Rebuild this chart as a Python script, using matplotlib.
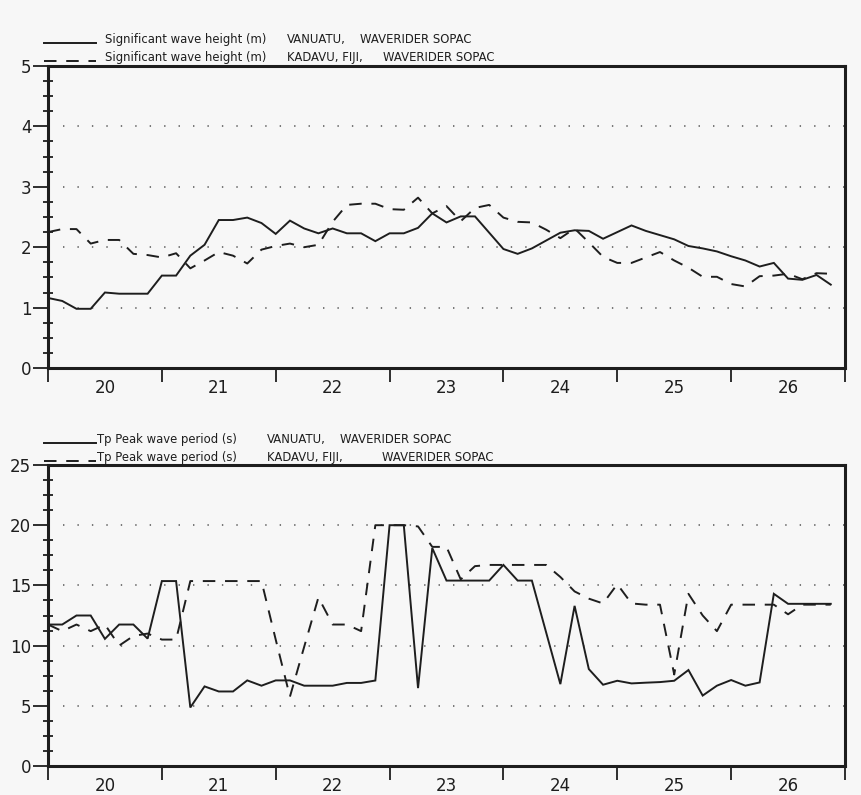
import numpy as np
import matplotlib
matplotlib.use("Agg")
import matplotlib.pyplot as plt
from matplotlib.lines import Line2D
from matplotlib.ticker import MultipleLocator, FixedLocator, FixedFormatter, NullFormatter

# ---------------- data (3-hourly, day 20 00:00 -> day 26 21:00) ----------------
start_day = 20
step_hours = 3

hs_vanuatu = [1.16, 1.11, 0.98, 0.98, 1.25, 1.23, 1.23, 1.23, 1.53, 1.53,
              1.86, 2.04, 2.45, 2.45, 2.49, 2.40, 2.22, 2.44, 2.31, 2.23,
              2.31, 2.23, 2.23, 2.10, 2.23, 2.23, 2.32, 2.56, 2.41, 2.51,
              2.51, 2.24, 1.97, 1.89, 1.98, 2.11, 2.24, 2.28, 2.27, 2.14,
              2.25, 2.36, 2.27, 2.20, 2.13, 2.02, 1.98, 1.93, 1.85, 1.78,
              1.68, 1.74, 1.48, 1.46, 1.54, 1.38]

hs_kadavu = [2.25, 2.30, 2.30, 2.06, 2.12, 2.12, 1.89, 1.87, 1.83, 1.90,
             1.65, 1.78, 1.92, 1.86, 1.73, 1.96, 2.02, 2.06, 2.00, 2.04,
             2.42, 2.70, 2.72, 2.72, 2.63, 2.62, 2.82, 2.56, 2.68, 2.43,
             2.65, 2.70, 2.49, 2.42, 2.41, 2.29, 2.15, 2.31, 2.08, 1.84,
             1.74, 1.74, 1.83, 1.92, 1.78, 1.66, 1.51, 1.51, 1.39, 1.35,
             1.52, 1.53, 1.56, 1.47, 1.57, 1.56]

tp_vanuatu = [11.75, 11.75, 12.5, 12.5, 10.56, 11.75, 11.75, 10.58, 15.36, 15.36,
              4.86, 6.61, 6.19, 6.19, 7.11, 6.67, 7.11, 7.11, 6.67, 6.67,
              6.67, 6.9, 6.9, 7.1, 20.0, 20.0, 6.47, 18.1, 15.4, 15.4,
              15.4, 15.4, 16.7, 15.4, 15.4, 11.1, 6.8, 13.3, 8.05, 6.75,
              7.08, 6.86, 6.92, 6.97, 7.08, 7.97, 5.85, 6.67, 7.14, 6.67,
              6.94, 14.3, 13.47, 13.47, 13.47, 13.47]

tp_kadavu = [11.75, 11.2, 11.75, 11.2, 11.75, 10.0, 10.8, 11.0, 10.5, 10.5,
             15.36, 15.36, 15.36, 15.36, 15.36, 15.36, 10.5, 5.76, 9.9, 14.0,
             11.75, 11.75, 11.2, 20.0, 20.0, 20.0, 19.9, 18.2, 18.2, 15.5,
             16.6, 16.7, 16.7, 16.7, 16.7, 16.7, 15.7, 14.5, 13.9, 13.5,
             15.1, 13.5, 13.4, 13.4, 7.6, 14.3, 12.5, 11.2, 13.4, 13.4,
             13.4, 13.4, 12.6, 13.4, 13.4, 13.4]

day_labels = ["20", "21", "22", "23", "24", "25", "26"]

legend_top = [("Significant wave height (m)", "VANUATU,", "WAVERIDER SOPAC"),
              ("Significant wave height (m)", "KADAVU, FIJI,", "WAVERIDER SOPAC")]
legend_bot = [("Tp Peak wave period (s)", "VANUATU,", "WAVERIDER SOPAC"),
              ("Tp Peak wave period (s)", "KADAVU, FIJI,", "WAVERIDER SOPAC")]

# ---------------- styling ----------------
W, H = 862, 795
BG = "#f7f7f7"
INK = "#1e1e1e"
plt.rcParams["lines.scale_dashes"] = False
plt.rcParams["font.family"] = ["DejaVu Sans"]
DASH = (9.0, 7.0)
LEG_FS = 8.4

hours = np.arange(len(hs_vanuatu)) * step_hours
x = start_day + hours / 24.0

fig = plt.figure(figsize=(W / 100, H / 100), dpi=100, facecolor=BG)


def fx(px):
    return px / W


def fy(py):
    return 1 - py / H


def make_axes(top_px, bot_px, ymax, ymajor):
    ax = fig.add_axes([fx(48), fy(bot_px), fx(845) - fx(48), fy(top_px) - fy(bot_px)])
    ax.set_facecolor(BG)
    ax.set_xlim(start_day, start_day + len(day_labels))
    ax.set_ylim(0, ymax)
    for s in ax.spines.values():
        s.set_linewidth(2.2)
        s.set_color(INK)
    ax.xaxis.set_major_locator(MultipleLocator(1))
    ax.xaxis.set_major_formatter(NullFormatter())
    ax.xaxis.set_minor_locator(FixedLocator([start_day + i + 0.5 for i in range(len(day_labels))]))
    ax.xaxis.set_minor_formatter(FixedFormatter(day_labels))
    ax.tick_params(axis="x", which="major", direction="out", length=10, width=1.3, colors=INK)
    ax.tick_params(axis="x", which="minor", length=0, pad=8, labelsize=12, labelcolor=INK)
    ax.yaxis.set_major_locator(MultipleLocator(ymajor))
    ax.yaxis.set_minor_locator(MultipleLocator(ymajor / 4))
    ax.tick_params(axis="y", which="major", direction="out", length=11, width=1.3,
                   labelsize=12, labelcolor=INK, colors=INK, pad=1)
    ax.tick_params(axis="y", which="minor", direction="inout", length=7, width=1.3, colors=INK)
    ax.tick_params(right=False, top=False)
    ax.grid(axis="y", which="major", color="#555555", linewidth=1.1,
            linestyle=(10.0, (1.0, 9.4)))
    ax.set_axisbelow(True)
    return ax


ax1 = make_axes(66, 368, 5, 1)
ax2 = make_axes(465, 766, 25, 5)

ax1.plot(x, hs_vanuatu, color=INK, linewidth=1.4, solid_joinstyle="miter")
ax1.plot(x, hs_kadavu, color=INK, linewidth=1.4, linestyle=(0, DASH))
ax2.plot(x, tp_vanuatu, color=INK, linewidth=1.4, solid_joinstyle="miter")
ax2.plot(x, tp_kadavu, color=INK, linewidth=1.4, linestyle=(0, DASH))

renderer = fig.canvas.get_renderer()


def right_px(t):
    return t.get_window_extent(renderer=renderer).x1


def legend_block(entries, y_lines, x_name, x_site, x_src2, gap=14):
    for k, (name, site, src) in enumerate(entries):
        y = y_lines[k]
        ls = "-" if k == 0 else (0, DASH)
        fig.add_artist(Line2D([fx(44), fx(96)], [fy(y), fy(y)], transform=fig.transFigure,
                              color=INK, linewidth=1.4, linestyle=ls))
        t1 = fig.text(fx(x_name), fy(y), name, fontsize=LEG_FS, color=INK, va="baseline", ha="left")
        xs = max(x_site, right_px(t1) + gap)
        t2 = fig.text(fx(xs), fy(y), site, fontsize=LEG_FS, color=INK, va="baseline", ha="left")
        xr = max(x_src2[k], right_px(t2) + gap)
        fig.text(fx(xr), fy(y), src, fontsize=LEG_FS, color=INK, va="baseline", ha="left")


legend_block(legend_top, [43, 61], 105, 287, [353, 383])
legend_block(legend_bot, [443, 461], 97, 267, [328, 382])

fig.savefig("out.png", dpi=100, facecolor=BG)
